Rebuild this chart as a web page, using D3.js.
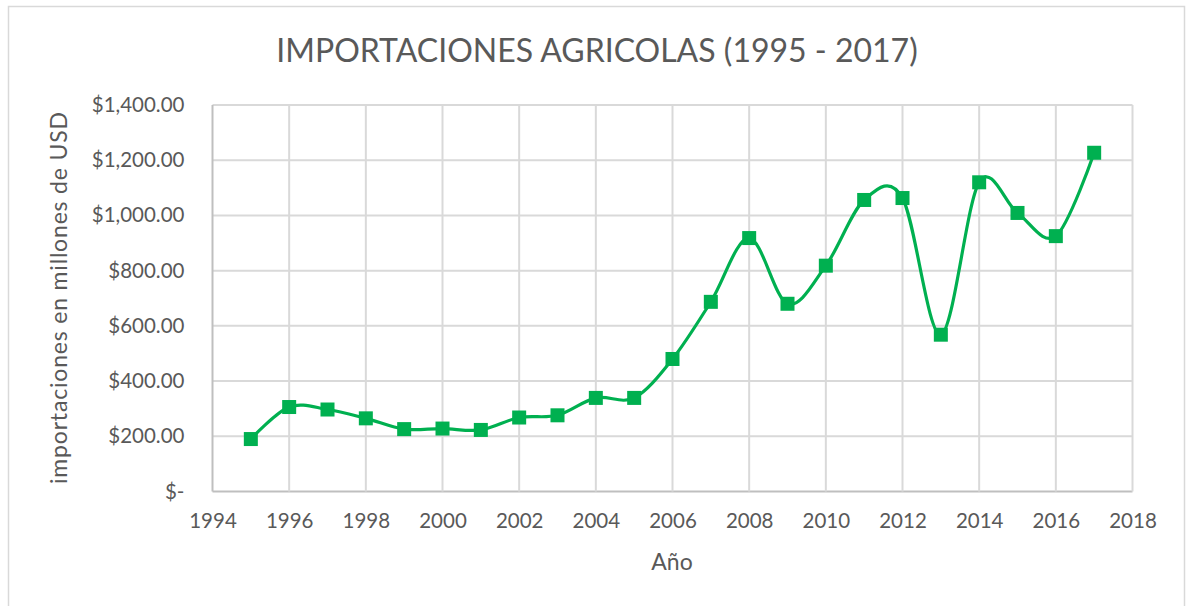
<!DOCTYPE html>
<html>
<head>
<meta charset="utf-8">
<script src="https://cdn.jsdelivr.net/npm/d3@7"></script>
<style>
  body { margin: 0; background: #fff; }
  text { font-family: Lato, "Open Sans", sans-serif; fill: #595959; }
</style>
</head>
<body>
<svg width="1186" height="606"></svg>
<script>
// data
var years = [1995, 1996, 1997, 1998, 1999, 2000, 2001, 2002, 2003, 2004, 2005, 2006,
             2007, 2008, 2009, 2010, 2011, 2012, 2013, 2014, 2015, 2016, 2017]
var imports = [190, 306, 297, 265, 226, 228, 223, 268, 276, 339, 339, 480,
               687, 918, 680, 818, 1056, 1063, 568, 1120, 1009, 925, 1227]
var xTicks = [1994, 1996, 1998, 2000, 2002, 2004, 2006, 2008, 2010, 2012, 2014, 2016, 2018]
var yTicks = [0, 200, 400, 600, 800, 1000, 1200, 1400]

var dataset = years.map((y, i) => ({ year: y, value: imports[i] }))

var svg = d3.select("svg")
var plotLeft = 212.5, plotRight = 1132.5, plotTop = 105, plotBottom = 491.5

// chart border
svg.append('rect')
    .attr('x', 8.5).attr('y', 6.5)
    .attr('width', 1176).attr('height', 620)
    .style('fill', 'none')
    .style('stroke', '#d9d9d9')
    .style('stroke-width', 1.5)

var xScale = d3.scaleLinear().domain([1994, 2018]).range([plotLeft, plotRight])
var yScale = d3.scaleLinear().domain([0, 1400]).range([plotBottom, plotTop])

// grid
svg.append('g').selectAll('line')
    .data(yTicks)
    .enter()
    .append('line')
    .attr('x1', plotLeft).attr('x2', plotRight)
    .attr('y1', d => yScale(d)).attr('y2', d => yScale(d))
    .style('stroke', d => d == 0 ? '#bfbfbf' : '#d9d9d9')
    .style('stroke-width', 2)
svg.append('g').selectAll('line')
    .data(xTicks)
    .enter()
    .append('line')
    .attr('x1', d => xScale(d)).attr('x2', d => xScale(d))
    .attr('y1', plotTop).attr('y2', plotBottom)
    .style('stroke', d => d == 1994 ? '#bfbfbf' : '#d9d9d9')
    .style('stroke-width', 2)

// y axis labels
var fmt = d3.format('$,.2f')
svg.append('g')
    .attr('transform', 'translate(' + (plotLeft - 28) + ',0)')
    .call(d3.axisLeft(yScale).tickValues(yTicks).tickSize(0).tickPadding(0)
        .tickFormat(d => d == 0 ? '$-' : fmt(d)))
    .call(g => g.select('.domain').remove())
    .call(g => g.selectAll('text')
        .style('font-size', '20.5px')
        .attr('fill', '#595959')
        .style('font-family', 'Lato, sans-serif'))

// x axis labels
svg.append('g')
    .attr('transform', 'translate(0,' + (plotBottom + 22) + ')')
    .call(d3.axisBottom(xScale).tickValues(xTicks).tickSize(0).tickPadding(0)
        .tickFormat(d3.format('d')))
    .call(g => g.select('.domain').remove())
    .call(g => g.selectAll('text')
        .style('font-size', '20.5px')
        .attr('fill', '#595959')
        .style('font-family', 'Lato, sans-serif'))

// Title
svg.append('text')
    .attr('x', 597)
    .attr('y', 62)
    .attr('text-anchor', 'middle')
    .style('font-size', '32px')
    .text('IMPORTACIONES AGRICOLAS (1995 - 2017)')
// x label
svg.append('text')
    .attr('x', 672)
    .attr('y', 570)
    .attr('text-anchor', 'middle')
    .style('font-size', '23px')
    .text('Año')
// y label
svg.append('text')
    .attr('text-anchor', 'middle')
    .attr('transform', 'translate(67,' + 298 + ')rotate(-90)')
    .style('font-size', '23px')
    .attr('textLength', 372)
    .text('importaciones en millones de USD')

// smoothed line
var line = d3.line()
    .x(d => xScale(d.year))
    .y(d => yScale(d.value))
    .curve(d3.curveCardinal.tension(0))
svg.append('path')
    .datum(dataset)
    .attr('d', line)
    .style('fill', 'none')
    .style('stroke', '#00b050')
    .style('stroke-width', 3.2)

// markers
var s = 14
svg.append('g').selectAll('rect')
    .data(dataset)
    .enter()
    .append('rect')
    .attr('x', d => xScale(d.year) - s / 2)
    .attr('y', d => yScale(d.value) - s / 2)
    .attr('width', s).attr('height', s)
    .style('fill', '#00b050')
</script>
</body>
</html>
